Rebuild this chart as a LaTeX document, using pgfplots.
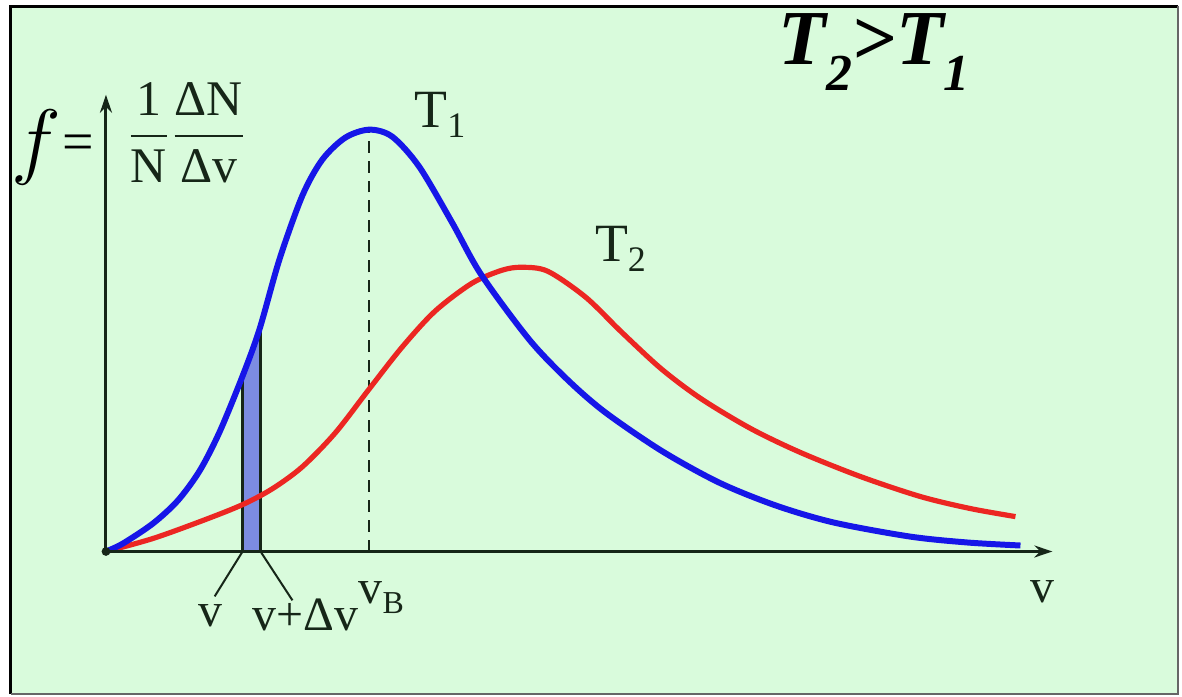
\documentclass[border=0pt]{standalone}
\usepackage{fontspec}
\setmainfont{Liberation Serif}
\usepackage{amsmath}
\usepackage{pgfplots}
\pgfplotsset{compat=1.18}
\usetikzlibrary{arrows.meta}

\definecolor{panel}{RGB}{217,251,220}
\definecolor{curveone}{RGB}{22,22,232}
\definecolor{curvetwo}{RGB}{236,38,34}
\definecolor{strip}{RGB}{124,140,226}
\definecolor{ink}{RGB}{22,38,24}

% Speed distributions f(v) at two temperatures (v in the same units on both curves)
\pgfplotstableread{
v   f
0   0
17  8
47  28
72  51
94  81
114 120
137 176
154 223
174 293
197 357
217 393
240 415
264 423
287 416
314 386
347 330
376 278
424 213
462 173
500 140
557 101
615 69
672 46
730 29
806 15
864 9
917 6
}\tempone

\pgfplotstableread{
v   f
0   0
47  13
97  31
137 47
167 63
197 85
230 119
264 163
297 205
330 241
367 269
397 282
417 285
443 281
481 255
517 220
557 183
597 153
647 123
697 99
757 75
817 55
867 43
912 35
}\temptwo

\begin{document}
\begin{tikzpicture}
\begin{axis}[
  width=591pt, height=349pt, scale only axis,
  xmin=-103, xmax=1079, ymin=-145, ymax=553,
  axis lines=none, clip=false,
]
% panel
\fill[white] (axis cs:-103,-145) rectangle (axis cs:1079,553);
\fill[panel] (axis cs:-95.5,-143) rectangle (axis cs:1075,546.5);
\draw[black, line width=1.5pt] (axis cs:-95.5,-143) -- (axis cs:-95.5,546.5) -- (axis cs:1075,546.5);
\draw[black!60, line width=0.8pt] (axis cs:1075,546.5) -- (axis cs:1075,-143) -- (axis cs:-95.5,-143);

% velocity interval [v, v+dv]
\addplot[fill=strip, draw=ink, line width=1.4pt] coordinates {(137,0) (137,176) (155,226) (155,0)} -- cycle;

% most probable speed of T1
\addplot[ink, line width=1pt, dash pattern=on 6pt off 4pt] coordinates {(264,0) (264,423)};

\addplot[curvetwo, line width=2.6pt, smooth] table {\temptwo};
\addplot[curveone, line width=3pt, smooth] table {\tempone};

% axes
\draw[ink, line width=1.5pt, -{Stealth[length=9pt,width=6pt]}] (axis cs:0,0) -- (axis cs:949,0);
\draw[ink, line width=1.5pt, -{Stealth[length=9pt,width=6pt]}] (axis cs:0,0) -- (axis cs:0,458);
\fill[ink] (axis cs:0,0) circle (2.2pt);

% leader lines to the interval labels
\draw[ink, line width=1pt] (axis cs:137,0) -- (axis cs:109,-45);
\draw[ink, line width=1pt] (axis cs:155,0) -- (axis cs:187,-49);

% labels
\node[ink, font=\fontsize{24}{24}\selectfont] at (axis cs:105,-64) {v};
\node[ink, font=\fontsize{24}{24}\selectfont] at (axis cs:200,-64) {v+Δv};
\node[ink, font=\fontsize{24}{24}\selectfont, anchor=base west, inner sep=0pt] at (axis cs:253,-52) {v\raisebox{-5pt}{\fontsize{16}{16}\selectfont B}};
\node[ink, font=\fontsize{24}{24}\selectfont] at (axis cs:939,-40) {v};

\node[ink, font=\fontsize{27}{27}\selectfont, anchor=base west, inner sep=0pt] at (axis cs:309,425) {T\raisebox{-5pt}{\fontsize{18}{18}\selectfont 1}};
\node[ink, font=\fontsize{27}{27}\selectfont, anchor=base west, inner sep=0pt] at (axis cs:490,291) {T\raisebox{-5pt}{\fontsize{18}{18}\selectfont 2}};

\node[black, font=\fontsize{24}{24}\selectfont, scale=1.7] at (axis cs:-70,405) {$f$};
\node[black, font=\fontsize{28}{28}\selectfont] at (axis cs:-28,405) {=};
\node[ink, font=\fontsize{25}{25}\selectfont] at (axis cs:43,420) {$\dfrac{\text{1}}{\text{N}}$};
\node[ink, font=\fontsize{25}{25}\selectfont] at (axis cs:103,420) {$\dfrac{\text{ΔN}}{\text{Δv}}$};

\node[black, font=\fontsize{39}{39}\selectfont\bfseries\itshape, anchor=base west, inner sep=0pt] at (axis cs:674,488)
  {T\raisebox{-13pt}{\fontsize{26}{26}\selectfont 2}>T\raisebox{-13pt}{\fontsize{26}{26}\selectfont 1}};
\end{axis}
\end{tikzpicture}
\end{document}
